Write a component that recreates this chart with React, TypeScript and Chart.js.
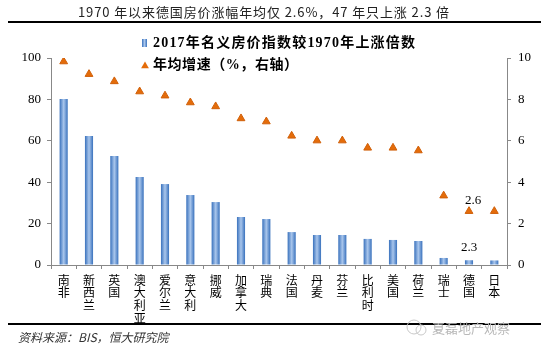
import React, { useEffect, useRef } from 'react';
import { Chart, registerables } from 'chart.js';
Chart.register(...registerables);

const countries = ['南非', '新西兰', '英国', '澳大利亚', '爱尔兰', '意大利', '挪威', '加拿大', '瑞典', '法国', '丹麦', '芬兰', '比利时', '美国', '荷兰', '瑞士', '德国', '日本'];
const riseMultiple = [80.2, 62.3, 52.7, 42.5, 39.1, 33.8, 30.4, 23.2, 22.2, 15.9, 14.5, 14.5, 12.6, 12.1, 11.6, 3.4, 2.3, 2.2];
const annualGrowth = [9.83, 9.22, 8.87, 8.38, 8.18, 7.85, 7.66, 7.08, 6.93, 6.24, 6.01, 6.01, 5.66, 5.66, 5.53, 3.35, 2.6, 2.6];
const leftAxis = { min: 0, max: 100, step: 20 };
const rightAxis = { min: 0, max: 10, step: 2 };
const barLegend = '2017年名义房价指数较1970年上涨倍数';
const lineLegend = '年均增速（%，右轴）';
const titleText = '1970 年以来德国房价涨幅年均仅 2.6%，47 年只上涨 2.3 倍';
const sourceText = '资料来源：BIS，恒大研究院';
const watermarkText = '夏磊地产观察';
const labelIndex = 16;
const barLabel = '2.3';
const lineLabel = '2.6';

const ORANGE = '#e46c0a';

function barGradient(ctx: CanvasRenderingContext2D, cx: number, half: number) {
  const g = ctx.createLinearGradient(cx - half, 0, cx + half, 0);
  g.addColorStop(0, '#3a72bd');
  g.addColorStop(0.5, '#a9c6ec');
  g.addColorStop(1, '#3a72bd');
  return g;
}

function fitText(ctx: any, text: string, x: number, y: number, width: number) {
  ctx.letterSpacing = '0px';
  const w = ctx.measureText(text).width;
  const n = Array.from(text).length;
  const sp = n > 1 ? (width - w) / (n - 1) : 0;
  ctx.letterSpacing = sp.toFixed(2) + 'px';
  ctx.fillText(text, x, y);
  ctx.letterSpacing = '0px';
}

const decoPlugin = {
  id: 'deco',
  afterDraw(chart: any) {
    const ctx: any = chart.ctx;
    const xs = chart.scales.x;
    const y = chart.scales.y;
    const y1 = chart.scales.y1;
    ctx.save();
    // title
    ctx.fillStyle = '#222';
    ctx.font = '13px "Noto Sans CJK SC", sans-serif';
    ctx.textAlign = 'left';
    ctx.textBaseline = 'middle';
    fitText(ctx, titleText, 78, 12, 371);
    // rules
    ctx.fillStyle = '#000';
    ctx.fillRect(8, 21, 533, 2);
    ctx.fillRect(8, 323, 533, 2);
    // legend
    ctx.fillStyle = barGradient(ctx, 144.5, 2.5);
    ctx.fillRect(142, 39, 5, 8);
    ctx.fillStyle = '#000';
    ctx.font = 'bold 14px "Liberation Serif", "Noto Sans CJK SC", serif';
    fitText(ctx, barLegend, 153, 43, 262);
    ctx.fillStyle = ORANGE;
    ctx.beginPath();
    const r = 4.5, tx = 145, ty = 66;
    ctx.moveTo(tx, ty - r);
    ctx.lineTo(tx + r * 0.866, ty + r * 0.5);
    ctx.lineTo(tx - r * 0.866, ty + r * 0.5);
    ctx.closePath();
    ctx.fill();
    ctx.fillStyle = '#000';
    ctx.font = 'bold 14px "Liberation Serif", "Noto Sans CJK SC", serif';
    fitText(ctx, lineLegend, 153, 65, 145);
    // data labels
    ctx.font = '13px "Liberation Serif", serif';
    ctx.textAlign = 'center';
    const lx = xs.getPixelForValue(labelIndex);
    ctx.fillText(barLabel, lx, y.getPixelForValue(riseMultiple[labelIndex]) - 13);
    ctx.fillText(lineLabel, lx + 4, y1.getPixelForValue(annualGrowth[labelIndex]) - 11);
    // source
    ctx.textAlign = 'left';
    ctx.fillStyle = '#333';
    ctx.font = 'italic 12px "Noto Sans CJK SC", sans-serif';
    ctx.fillText(sourceText, 18, 337);
    // watermark
    ctx.strokeStyle = '#c8c8c8';
    ctx.lineWidth = 1;
    ctx.beginPath();
    ctx.arc(414, 327, 7, 0, Math.PI * 2);
    ctx.stroke();
    ctx.beginPath();
    ctx.arc(421, 330, 5, 0, Math.PI * 2);
    ctx.stroke();
    ctx.fillStyle = '#b8b8b8';
    ctx.font = '13px "Noto Sans CJK SC", sans-serif';
    ctx.fillText(watermarkText, 432, 328);
    ctx.restore();
  },
};

export default function App() {
  const ref = useRef<HTMLCanvasElement>(null);
  useEffect(() => {
    if (!ref.current) return;
    const chart = new Chart(ref.current, {
      type: 'bar',
      data: {
        labels: countries.map((c) => c.split('')),
        datasets: [
          {
            type: 'bar',
            label: barLegend,
            data: riseMultiple,
            yAxisID: 'y',
            categoryPercentage: 1,
            barPercentage: 0.32,
            backgroundColor: (c: any) => {
              const chart = c.chart;
              const xs = chart.scales && chart.scales.x;
              if (!xs || c.dataIndex == null) return '#5b8fd0';
              const px = xs.getPixelForValue(c.dataIndex);
              if (!isFinite(px)) return '#5b8fd0';
              return barGradient(chart.ctx, px, 4);
            },
            borderWidth: 0,
            order: 2,
          } as any,
          {
            type: 'line',
            label: lineLegend,
            data: annualGrowth,
            yAxisID: 'y1',
            showLine: false,
            pointStyle: 'triangle',
            pointRadius: 4.5,
            pointBackgroundColor: ORANGE,
            pointBorderColor: '#d0600a',
            pointBorderWidth: 1,
            order: 1,
          } as any,
        ],
      },
      options: {
        animation: false,
        responsive: false,
        layout: { padding: { top: 58, left: 0, right: 0, bottom: 0 } },
        plugins: { legend: { display: false }, tooltip: { enabled: false } },
        scales: {
          x: {
            offset: true,
            grid: { offset: true, drawOnChartArea: false, tickLength: 4, color: '#888' },
            border: { color: '#888' },
            ticks: {
              autoSkip: false,
              maxRotation: 0,
              padding: 5,
              color: '#000',
              font: { size: 12, family: '"Noto Sans CJK SC", sans-serif', lineHeight: 1.05 },
            },
            afterFit: (s: any) => { s.height = 85; },
          },
          y: {
            position: 'left',
            min: leftAxis.min,
            max: leftAxis.max,
            grid: { drawOnChartArea: false, tickLength: 4, color: '#888' },
            border: { color: '#888' },
            ticks: {
              stepSize: leftAxis.step,
              padding: 6,
              color: '#000',
              font: { size: 13, family: '"Liberation Serif", serif' },
            },
            afterFit: (s: any) => { s.width = 51; },
          },
          y1: {
            position: 'right',
            min: rightAxis.min,
            max: rightAxis.max,
            grid: { drawOnChartArea: false, tickLength: 4, color: '#888' },
            border: { color: '#888' },
            ticks: {
              stepSize: rightAxis.step,
              padding: 7,
              color: '#000',
              font: { size: 13, family: '"Liberation Serif", serif' },
            },
            afterFit: (s: any) => { s.width = 34; },
          },
        },
      } as any,
      plugins: [decoPlugin],
    });
    return () => chart.destroy();
  }, []);
  return (
    <div style={{ position: 'absolute', left: 0, top: 0, width: 541, height: 350, background: '#fff' }}>
      <canvas ref={ref} width={541} height={350} style={{ display: 'block' }} />
    </div>
  );
}
